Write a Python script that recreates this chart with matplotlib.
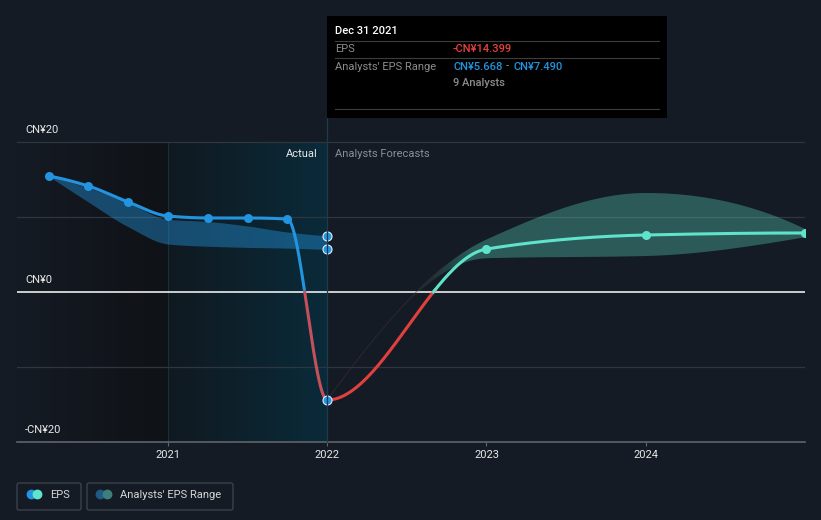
import numpy as np
import matplotlib
matplotlib.use("Agg")
import matplotlib.pyplot as plt
from matplotlib.patches import Rectangle, FancyBboxPatch, Circle
from matplotlib.colors import to_rgb

plt.rcParams['font.family'] = ['Roboto', 'DejaVu Sans']

# ---- data (decimal years, CN¥ per share) ----
actual_dates = [2020.25, 2020.5, 2020.75, 2021.0, 2021.25, 2021.5, 2021.75, 2022.0]
actual_eps = [15.47, 14.13, 12.0, 10.13, 9.87, 9.87, 9.73, -14.399]
past_low = [15.47, 12.0, 8.7, 6.4, 6.1, 5.95, 5.85, 5.668]
past_high = [15.47, 13.9, 11.9, 9.7, 9.4, 8.8, 8.0, 7.490]

forecast_dates = [2023.0, 2024.0, 2025.0]
forecast_eps = [5.73, 7.6, 7.87]
forecast_low = [4.5, 4.8, 7.3]
forecast_high = [7.0, 13.2, 8.4]

year_ticks = [2021, 2022, 2023, 2024]
y_ticks = [20, 0, -20]
y_tick_labels = ['CN¥20', 'CN¥0', '-CN¥20']

BG = '#151b24'
BLUE = '#2394df'
RED = '#e0413f'
TEAL = '#5fe3cb'
W, H = 821, 520


def pchip(x, y, xs):
    x = np.asarray(x, float)
    y = np.asarray(y, float)
    h = np.diff(x)
    d = np.diff(y) / h
    n = len(x)
    m = np.zeros(n)
    for k in range(1, n - 1):
        if d[k - 1] * d[k] > 0:
            w1 = 2 * h[k] + h[k - 1]
            w2 = h[k] + 2 * h[k - 1]
            m[k] = (w1 + w2) / (w1 / d[k - 1] + w2 / d[k])

    def end(h0, h1, d0, d1):
        v = ((2 * h0 + h1) * d0 - h0 * d1) / (h0 + h1)
        if np.sign(v) != np.sign(d0):
            v = 0.0
        elif np.sign(d0) != np.sign(d1) and abs(v) > 3 * abs(d0):
            v = 3 * d0
        return v

    if n > 2:
        m[0] = end(h[0], h[1], d[0], d[1])
        m[-1] = end(h[-1], h[-2], d[-1], d[-2])
    else:
        m[:] = d[0]
    xs = np.asarray(xs, float)
    idx = np.clip(np.searchsorted(x, xs) - 1, 0, n - 2)
    t = (xs - x[idx]) / h[idx]
    h00 = 2 * t**3 - 3 * t**2 + 1
    h10 = t**3 - 2 * t**2 + t
    h01 = -2 * t**3 + 3 * t**2
    h11 = t**3 - t**2
    return h00 * y[idx] + h10 * h[idx] * m[idx] + h01 * y[idx + 1] + h11 * h[idx] * m[idx + 1]


fig = plt.figure(figsize=(W / 100, H / 100), dpi=100)
fig.patch.set_facecolor(BG)

# main axes: x pixels 17..805, y pixels 120..442
ax = fig.add_axes([17 / W, 1 - 442 / H, (805 - 17) / W, (442 - 120) / H])
ax.set_facecolor(BG)
y_top = (292 - 120) / 7.5
ax.set_xlim(2020.052, 2025.0)
ax.set_ylim(-20, y_top)
for s in ['top', 'right', 'left']:
    ax.spines[s].set_visible(False)
ax.spines['bottom'].set_color('#5f646b')
ax.spines['bottom'].set_linewidth(1.2)
ax.set_yticks([])
ax.set_xticks(year_ticks)
ax.set_xticklabels([str(y) for y in year_ticks])
ax.tick_params(axis='x', colors='#5f646b', labelcolor='#e8e8e8', labelsize=8, length=3, pad=3)

# background shading
grad = np.linspace(0, 1, 256).reshape(1, -1)
c0, c1 = np.array(to_rgb(BG)), np.array(to_rgb('#0f1216'))
img = c0[None, None, :] * (1 - grad[..., None]) + c1[None, None, :] * grad[..., None]
ax.imshow(img, extent=[2020.052, 2021.0, -20, 20], aspect='auto', zorder=0.5)
c0, c1 = np.array(to_rgb('#101920')), np.array(to_rgb('#0a2b3a'))
img = c0[None, None, :] * (1 - grad[..., None]) + c1[None, None, :] * grad[..., None]
ax.imshow(img, extent=[2021.0, 2022.0, -20, 20], aspect='auto', zorder=0.5)
ax.axvline(2021.0, ymin=0, ymax=40 / (y_top + 20), color='#15303c', lw=0.8, zorder=0.6)

# grid
for v in [20, 10, -10]:
    ax.axhline(v, color='#30363f', lw=0.9, zorder=1)
ax.axhline(0, color='white', lw=1.1, zorder=1.2)

# past range band
xs_p = np.linspace(actual_dates[0], actual_dates[-1], 300)
ax.fill_between(xs_p, pchip(actual_dates, past_low, xs_p), pchip(actual_dates, past_high, xs_p),
                color=BLUE, alpha=0.42, lw=0, zorder=2)

# forecast band with fade-in
band_x = [actual_dates[-1]] + forecast_dates
band_lo = [actual_eps[-1]] + forecast_low
band_hi = [actual_eps[-1]] + forecast_high
xs_f = np.linspace(band_x[0], band_x[-1], 400)
poly = ax.fill_between(xs_f, pchip(band_x, band_lo, xs_f), pchip(band_x, band_hi, xs_f),
                       color='none', lw=0, zorder=2)
gx = np.linspace(band_x[0], band_x[-1], 400)
alpha = np.clip((gx - 2022.45) / 0.45, 0, 1) ** 1.3 * 0.32
rgba = np.zeros((1, 400, 4))
rgba[..., :3] = to_rgb(TEAL)
rgba[..., 3] = alpha
im = ax.imshow(rgba, extent=[band_x[0], band_x[-1], -20, 20], aspect='auto', zorder=2)
im.set_clip_path(poly.get_paths()[0], transform=ax.transData)
xs_e = xs_f[xs_f <= 2022.75]
ax.plot(xs_e, pchip(band_x, band_hi, xs_e), color='#4a2e33', lw=0.6, alpha=0.6, zorder=2)

# EPS line (actual + forecast as one smooth curve)
all_x = actual_dates + forecast_dates
all_y = actual_eps + forecast_eps
xs = np.linspace(all_x[0], all_x[-1], 2000)
ys = pchip(all_x, all_y, xs)
past = xs <= 2022.0
fut = xs >= 2022.0
ax.plot(xs[past], np.where(ys[past] >= 0, ys[past], np.nan), color=BLUE, lw=2.2, zorder=3,
        solid_capstyle='round')
ax.plot(xs[past], np.where(ys[past] <= 0.3, ys[past], np.nan), color='#c4505a', lw=2.2, zorder=3)
ax.plot(xs[fut], np.where(ys[fut] <= 0.3, ys[fut], np.nan), color=RED, lw=2.2, zorder=3)
ax.plot(xs[fut], np.where(ys[fut] >= 0, ys[fut], np.nan), color=TEAL, lw=2.2, zorder=3)

ax.plot(actual_dates[:-1], actual_eps[:-1], 'o', color=BLUE, ms=6.5, mew=0, zorder=4)
ax.plot(forecast_dates, forecast_eps, 'o', color=TEAL, ms=6.5, mew=0, zorder=4)
ax.plot([actual_dates[-1]] * 3, [actual_eps[-1], past_low[-1], past_high[-1]], 'o',
        color=BLUE, mec='#dfefff', ms=6.5, mew=0.8, zorder=5)

# overlay in pixel coordinates
ov = fig.add_axes([0, 0, 1, 1], facecolor='none')
ov.set_xlim(0, W)
ov.set_ylim(H, 0)
ov.axis('off')

ov.plot([327, 327], [118, 442], color='#1d3b4b', lw=0.9, zorder=1)

# y labels
for v, lab in zip(y_ticks, y_tick_labels):
    ov.text(25, 292 - v * 7.5 - 12, lab, color='#e8e8e8', fontsize=8, va='center', ha='left')

ov.text(318, 154, 'Actual', color='#e8e8e8', fontsize=8, va='center', ha='right')
ov.text(335, 154, 'Analysts Forecasts', color='#8a8f96', fontsize=8, va='center', ha='left')

# tooltip
ov.add_patch(Rectangle((327, 16), 340, 102, facecolor='black', edgecolor='none', zorder=5))
ov.text(335, 31, 'Dec 31 2021', color='white', fontsize=8, fontweight='medium', va='center', zorder=6)
for yy in [41, 58, 109]:
    ov.plot([335, 659], [yy, yy], color='#3d3d3d', lw=0.8, zorder=6)
ov.text(335, 49.5, 'EPS', color='#8c8c8c', fontsize=8, va='center', zorder=6)
ov.text(453, 49.5, '-CN¥14.399', color='#e8413f', fontsize=8, fontweight='medium', va='center', zorder=6)
ov.text(335, 66.5, "Analysts' EPS Range", color='#8c8c8c', fontsize=8, va='center', zorder=6)
ov.text(453, 66.5, 'CN¥5.668', color=BLUE, fontsize=8, fontweight='medium', va='center', zorder=6)
ov.text(506, 66.5, '-', color='#8c8c8c', fontsize=8, va='center', zorder=6)
ov.text(513, 66.5, 'CN¥7.490', color=BLUE, fontsize=8, fontweight='medium', va='center', zorder=6)
ov.text(453, 83.5, '9 Analysts', color='#8c8c8c', fontsize=8, fontweight='medium', va='center', zorder=6)

# legend
ov.add_patch(FancyBboxPatch((17, 483), 64, 27, boxstyle='round,pad=0,rounding_size=2',
                            facecolor='none', edgecolor='#3f454e', lw=0.9))
ov.add_patch(Circle((31.5, 494.5), 4.2, color=BLUE))
ov.add_patch(Circle((37.5, 494.5), 4.2, color=TEAL))
ov.text(50, 495, 'EPS', color='#d6d6d6', fontsize=8, va='center')
ov.add_patch(FancyBboxPatch((87, 483), 146, 27, boxstyle='round,pad=0,rounding_size=2',
                            facecolor='none', edgecolor='#3f454e', lw=0.9))
ov.add_patch(Circle((100.5, 494.5), 4.2, color='#1f5a86'))
ov.add_patch(Circle((107.5, 494.5), 4.2, color='#3c7f7b'))
ov.text(120, 495, "Analysts' EPS Range", color='#d6d6d6', fontsize=8, va='center')

fig.savefig('out.png', dpi=100, facecolor=BG)
